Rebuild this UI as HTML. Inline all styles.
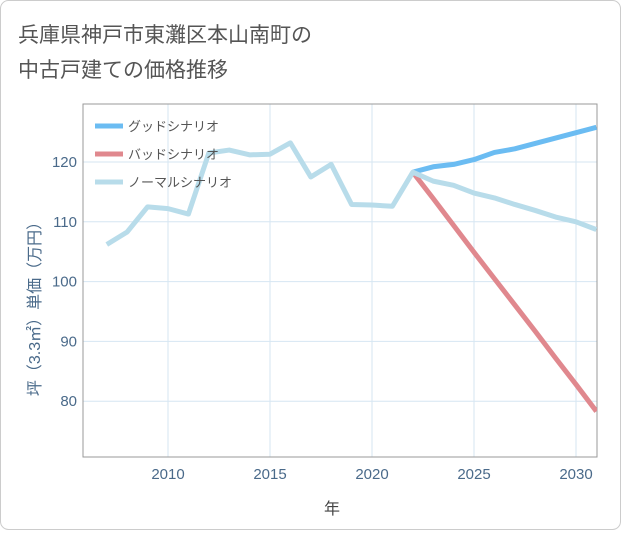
<!DOCTYPE html>
<html><head><meta charset="utf-8"><style>
body{margin:0;background:#fff;font-family:"Liberation Sans","Noto Sans CJK JP",sans-serif}
svg text{font-family:"Liberation Sans","Noto Sans CJK JP",sans-serif}
</style></head><body>
<svg width="621" height="530">
<rect x="0.5" y="0.5" width="620" height="529" rx="8" fill="#fff" stroke="#ccc"/>
<text x="18" y="42" font-size="21" fill="#555">兵庫県神戸市東灘区本山南町の</text>
<text x="18" y="77" font-size="21" fill="#555">中古戸建ての価格推移</text>
<g id="grid"></g>
<rect x="83" y="104" width="514" height="353" fill="none" stroke="#999"/>
<g id="series"></g>
<g id="axes"></g>
<text x="332" y="514" font-size="16" fill="#444" text-anchor="middle">年</text>
<text transform="translate(40,305) rotate(-90)" font-size="16" fill="#4a6a8a" text-anchor="middle">坪（3.3㎡）単価（万円）</text>
<g>
<line x1="95" y1="126" x2="123" y2="126" stroke="#6bbcf2" stroke-width="5"/>
<text x="128" y="131" font-size="13" fill="#555">グッドシナリオ</text>
<line x1="95" y1="154" x2="123" y2="154" stroke="#e0888e" stroke-width="5"/>
<text x="128" y="159" font-size="13" fill="#555">バッドシナリオ</text>
<line x1="95" y1="182" x2="123" y2="182" stroke="#b8dcea" stroke-width="5"/>
<text x="128" y="187" font-size="13" fill="#555">ノーマルシナリオ</text>
</g>
</svg>
<script>
const normalYears=[2007,2008,2009,2010,2011,2012,2013,2014,2015,2016,2017,2018,2019,2020,2021,2022,2023,2024,2025,2026,2027,2028,2029,2030,2031];
const normalVals=[106.2,108.3,112.5,112.2,111.3,121.5,122,121.2,121.3,123.2,117.5,119.6,112.9,112.8,112.6,118.3,116.8,116.1,114.8,114.0,112.9,111.9,110.8,110.0,108.7];
const futureYears=[2022,2023,2024,2025,2026,2027,2028,2029,2030,2031];
const goodVals=[118.3,119.2,119.6,120.4,121.6,122.2,123.1,124.0,124.9,125.8];
const badVals=[118.3,113.9,109.4,104.9,100.5,96.1,91.7,87.2,82.8,78.3];
const xTicks=[2010,2015,2020,2025,2030];
const yTicks=[80,90,100,110,120];
const NS='http://www.w3.org/2000/svg';
const X=y=>168+(y-2010)*20.4;
const Y=v=>162-(v-120)*5.98;
function mk(t,a,p){const e=document.createElementNS(NS,t);for(const k in a)e.setAttribute(k,a[k]);p.appendChild(e);return e;}
const grid=document.getElementById('grid'),axes=document.getElementById('axes'),ser=document.getElementById('series');
xTicks.forEach(t=>{const l=mk('line',{x1:X(t),x2:X(t),y1:104,y2:457,stroke:'#d6e6f2'},grid);


const tx=mk('text',{x:X(t),y:479,'font-size':15,fill:'#4a6a8a','text-anchor':'middle'},axes);tx.textContent=t;

});
yTicks.forEach(t=>{const l=mk('line',{x1:83,x2:597,y1:Y(t),y2:Y(t),stroke:'#d6e6f2'},grid);


const tx=mk('text',{x:77,y:Y(t)+5,'font-size':15,fill:'#4a6a8a','text-anchor':'end'},axes);tx.textContent=t;

});
function line(xs,vs,c,name){const p=mk('polyline',{points:xs.map((y,i)=>X(y)+','+Y(vs[i])).join(' '),fill:'none',stroke:c,'stroke-width':5,'stroke-linejoin':'round'},ser);

}
const cp=mk('clipPath',{id:'cp'},ser);mk('rect',{x:83,y:104,width:514,height:353},cp);ser.setAttribute('clip-path','url(#cp)');
line(futureYears,badVals,'#e0888e','bad-scenario-line');
line(futureYears,goodVals,'#6bbcf2','good-scenario-line');
line(normalYears,normalVals,'#b8dcea','normal-scenario-line');
</script>
</body></html>
